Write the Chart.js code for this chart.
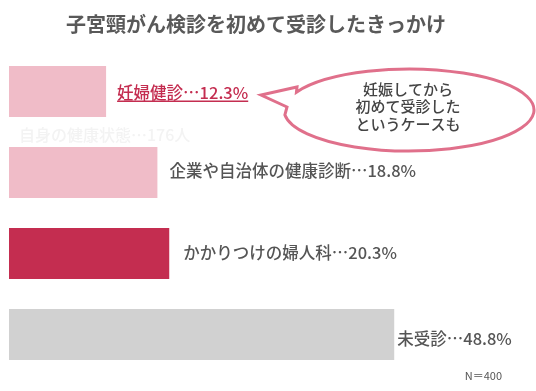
<!DOCTYPE html>
<html lang="ja">
<head>
    <meta charset="UTF-8">
    <title>子宮頸がん検診を初めて受診したきっかけ</title>
    <script src="https://cdn.jsdelivr.net/npm/chart.js@4.4.1/dist/chart.umd.min.js"></script>
    <style>
        html, body { margin: 0; padding: 0; background: #fff; }
        #wrap { position: relative; width: 536px; height: 391px; }
    </style>
</head>
<body>
<div id="wrap"><canvas id="myChart" width="536" height="391"></canvas></div>
<script>
    // data
    var categories = ['妊婦健診', '企業や自治体の健康診断', 'かかりつけの婦人科', '未受診'];
    var percents = [12.3, 18.8, 20.3, 48.8];
    var barColors = ['#f0bcc8', '#f0bcc8', '#c42d50', '#d1d1d1'];
    var chartTitle = '子宮頸がん検診を初めて受診したきっかけ';
    var bubbleLines = ['妊娠してから', '初めて受診した', 'というケースも'];
    var sampleNote = 'N＝400';
    var ghostText = '自身の健康状態…176人';

    var JP = "'Noto Sans CJK JP', 'Noto Sans', sans-serif";

    // label placement tweaks (gap after bar end, vertical nudge)
    var labelGap = [11, 12, 14, 3];
    var labelDy = [1, -2, -1, 4];

    var decor = {
        id: 'decor',
        afterDatasetsDraw: function (chart) {
            var c = chart.ctx;
            var bars = chart.getDatasetMeta(0).data;
            c.save();

            // title
            c.fillStyle = '#595959';
            c.font = 'bold 20px ' + JP;
            c.textAlign = 'center';
            c.textBaseline = 'middle';
            c.fillText(chartTitle, 256, 24);

            // value labels
            c.font = '500 16.5px ' + JP;
            c.textAlign = 'left';
            bars.forEach(function (b, i) {
                var txt = categories[i] + '…' + percents[i] + '%';
                var x = b.x + labelGap[i], y = b.y + labelDy[i];
                if (i === 0) {
                    c.fillStyle = '#c42d50';
                    c.fillText(txt, x, y);
                    var w = c.measureText(txt).width;
                    c.fillRect(x, y + 8, w, 1.5);
                } else {
                    c.fillStyle = '#555555';
                    c.fillText(txt, x, y);
                }
            });

            // faint ghost text under first bar
            c.fillStyle = '#f3f3f3';
            c.font = '500 16px ' + JP;
            c.fillText(ghostText, 19, 135);

            // speech bubble
            var cx = 409, cy = 110, rx = 125, ry = 41;
            var a1 = Math.PI + 0.45, a2 = Math.PI - 0.12;
            c.beginPath();
            c.ellipse(cx, cy, rx, ry, 0, a1, a2 + 2 * Math.PI, false);
            c.lineTo(287, 107);
            c.lineTo(261, 95);
            c.lineTo(297, 87);
            c.closePath();
            c.fillStyle = '#ffffff';
            c.fill();
            c.strokeStyle = '#e0708b';
            c.lineWidth = 3;
            c.lineJoin = 'miter';
            c.stroke();

            c.fillStyle = '#444444';
            c.font = '500 15px ' + JP;
            c.textAlign = 'center';
            bubbleLines.forEach(function (t, i) {
                c.fillText(t, 408, 89 + i * 17.5);
            });

            // sample size
            c.fillStyle = '#555555';
            c.font = '11px ' + JP;
            c.textAlign = 'right';
            c.fillText(sampleNote, 502, 376);

            c.restore();
        }
    };

    var ctx = document.getElementById('myChart').getContext('2d');
    var myChart = new Chart(ctx, {
        type: 'bar',
        data: {
            labels: categories,
            datasets: [{
                data: percents,
                backgroundColor: barColors,
                borderWidth: 0,
                barPercentage: 0.63,
                categoryPercentage: 1
            }]
        },
        options: {
            indexAxis: 'y',
            responsive: false,
            animation: false,
            layout: { padding: { left: 9, right: 6, top: 51, bottom: 16 } },
            scales: {
                x: { display: false, min: 0, max: 66 },
                y: { display: false }
            },
            plugins: {
                legend: { display: false },
                tooltip: { enabled: false },
                title: { display: false }
            }
        },
        plugins: [decor]
    });
</script>
</body>
</html>
